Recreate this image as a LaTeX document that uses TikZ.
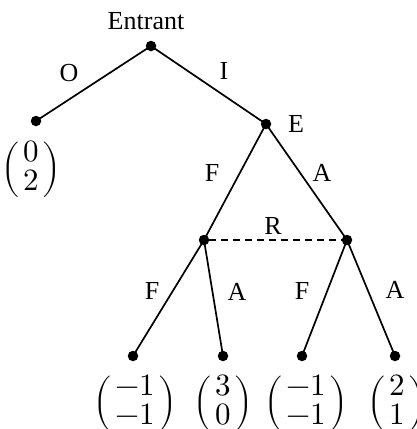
\documentclass[tikz,border=0pt]{standalone}
\usepackage{amsmath}
\usepackage{fontspec}
\usepackage{unicode-math}
\setmainfont{Liberation Serif}
\setmathfont{Latin Modern Math}
\newcommand{\payvec}[2]{$\renewcommand{\arraystretch}{0.8}\left(\mkern2mu\begin{array}{@{}c@{}}#1\\#2\end{array}\mkern2mu\right)$}
\begin{document}
\begin{tikzpicture}[x=1pt,y=-1pt,
  dotnode/.style={circle,fill=black,inner sep=0pt,minimum size=10.5pt},
  edge/.style={line width=1.7pt},
  lbl/.style={font=\fontsize{26}{30}\selectfont,inner sep=0pt},
  pay/.style={font=\fontsize{31}{35}\selectfont,inner sep=0pt}]
\clip (0,0) rectangle (416,429);
\useasboundingbox (0,0) rectangle (416,429);
\node[dotnode] (r) at (151,46) {};
\node[dotnode] (o) at (36,121) {};
\node[dotnode] (e) at (266,124) {};
\node[dotnode] (l) at (204,240) {};
\node[dotnode] (m) at (347,240) {};
\node[dotnode] (a1) at (133,356) {};
\node[dotnode] (a2) at (223,356) {};
\node[dotnode] (a3) at (302,356) {};
\node[dotnode] (a4) at (395,356) {};
\draw[edge] (r.center) -- (o.center);
\draw[edge] (r.center) -- (e.center);
\draw[edge] (e.center) -- (l.center);
\draw[edge] (e.center) -- (m.center);
\draw[edge] (l.center) -- (a1.center);
\draw[edge] (l.center) -- (a2.center);
\draw[edge] (m.center) -- (a3.center);
\draw[edge] (m.center) -- (a4.center);
\draw[line width=1.3pt,dash pattern=on 7pt off 5pt] (l) -- (m);
\node[lbl] (tEntrant) at (146,21) {Entrant};
\node[lbl] (tO) at (69,73) {O};
\node[lbl] (tI) at (224,71) {I};
\node[lbl] (tE) at (296,124) {E};
\node[lbl] (tF1) at (212,173) {F};
\node[lbl] (tA1) at (322,173) {A};
\node[lbl] (tR) at (273,226) {R};
\node[lbl] (tF2) at (152,291) {F};
\node[lbl] (tA2) at (237,292) {A};
\node[lbl] (tF3) at (302,291) {F};
\node[lbl] (tA3) at (395,290) {A};
\node[pay] (p0) at (31,170) {\payvec{0}{2}};
\node[pay] (p1) at (135,404) {\payvec{-1}{-1}};
\node[pay] (p2) at (223,404) {\payvec{3}{0}};
\node[pay] (p3) at (306,404) {\payvec{-1}{-1}};
\node[pay] (p4) at (397,404) {\payvec{2}{1}};
\end{tikzpicture}
\end{document}
